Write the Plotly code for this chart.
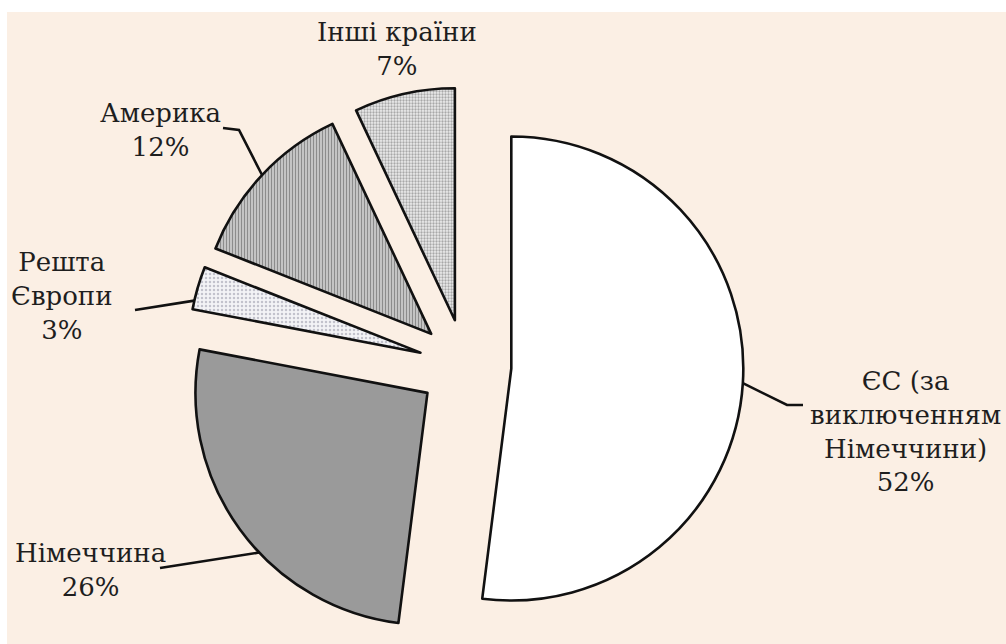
import math
import plotly.graph_objects as go

# ---- data ----
categories = ["ЄС (за виключенням Німеччини)", "Німеччина", "Решта Європи", "Америка", "Інші країни"]
label_texts = ["ЄС (за<br>виключенням<br>Німеччини)", "Німеччина", "Решта<br>Європи", "Америка", "Інші країни"]
shares = [52, 26, 3, 12, 7]

# ---- styles ----
fill_colors = ["#ffffff", "#9a9a9a", "#f3f3f6", "#c4c4c4", "#ececec"]
pattern_shapes = ["", "", ".", "|", "."]
pattern_fg = ["#ffffff", "#9a9a9a", "#c2c2cc", "#8c8c8c", "#a8a8a8"]
pattern_size = [6, 6, 4, 3, 3]
pattern_solid = [0.2, 0.2, 0.3, 0.35, 0.45]
FONT = "DejaVu Serif, serif"

W, H = 1006, 644
R = 232.0
PULL = 0.2
CX = 465.0
BOX = 2 * R * (1 + PULL)
CY = H - BOX / 2

fig = go.Figure()
fig.add_trace(go.Pie(
    labels=categories,
    values=shares,
    sort=False,
    direction="clockwise",
    rotation=0,
    pull=[PULL] * len(shares),
    textinfo="none",
    showlegend=False,
    hoverinfo="label+percent",
    domain=dict(x=[(CX - BOX / 2) / W, (CX + BOX / 2) / W], y=[0, BOX / H]),
    marker=dict(
        colors=fill_colors,
        line=dict(color="#111111", width=2.6),
        pattern=dict(shape=pattern_shapes, fgcolor=pattern_fg, bgcolor=fill_colors,
                     size=pattern_size, solidity=pattern_solid),
    ),
))

# slice geometry (same as the pie's own layout) to attach leader lines
total = sum(shares)
starts = []
acc = 0
for v in shares:
    starts.append(acc / total * 360)
    acc += v
spans = [v / total * 360 for v in shares]


def px(x, y):
    return x / W, 1 - y / H


def arc_point(i, frac):
    mid = math.radians(starts[i] + spans[i] / 2)
    ax = CX + PULL * R * math.sin(mid)
    ay = CY - PULL * R * math.cos(mid)
    a = math.radians(starts[i] + spans[i] * frac)
    return ax + R * math.sin(a), ay - R * math.cos(a)


# label placement (pixels): centre, leader points on label side, anchor fraction on arc
label_layout = [
    dict(pos=(905, 431), lead=[(803, 405), (787, 405)], frac=0.5),
    dict(pos=(90, 570), lead=[(160, 568)], frac=0.42),
    dict(pos=(62, 296), lead=[(135, 310)], frac=0.2),
    dict(pos=(160, 130), lead=[(223, 128), (239, 130)], frac=0.5),
    dict(pos=(397, 49), lead=None, frac=None),
]

shapes = [dict(type="rect", xref="paper", yref="paper", x0=7 / W, x1=1, y0=0, y1=1 - 12 / H,
               fillcolor="#fbefe4", line=dict(width=0), layer="below")]
annotations = []
for i, lay in enumerate(label_layout):
    tx, ty = px(*lay["pos"])
    annotations.append(dict(
        x=tx, y=ty, xref="paper", yref="paper", xanchor="center", yanchor="middle",
        text=f"{label_texts[i]}<br>{shares[i]}%", showarrow=False, align="center",
        font=dict(family=FONT, size=26, color="#1e1e1e"),
    ))
    if lay["lead"]:
        pts = list(lay["lead"]) + [arc_point(i, lay["frac"])]
        path = "M " + " L ".join(f"{px(x, y)[0]:.5f},{px(x, y)[1]:.5f}" for x, y in pts)
        shapes.append(dict(type="path", xref="paper", yref="paper", path=path,
                           line=dict(color="#111111", width=2.6), layer="above"))

fig.update_layout(
    width=W, height=H,
    margin=dict(l=0, r=0, t=0, b=0),
    paper_bgcolor="#ffffff",
    plot_bgcolor="#ffffff",
    font=dict(family=FONT),
    shapes=shapes,
    annotations=annotations,
)

fig.write_html("out.html")
